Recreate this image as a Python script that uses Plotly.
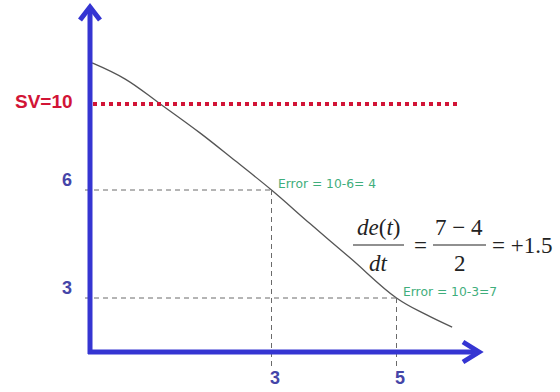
import plotly.graph_objects as go

# ---------------- data ----------------
t_vals = [0.13, 0.66, 1.22, 1.86, 2.42, 3.0, 3.62, 4.26, 5.0, 5.46, 5.89]
pv_vals = [9.53, 9.08, 8.39, 7.58, 6.81, 6.0, 5.06, 4.11, 3.0, 2.55, 2.19]
setpoint = 10
sv_level = 8.39          # schematic height at which the SV line is drawn
sample_t = [3, 5]
sample_pv = [6, 3]
x_tick_labels = ["3", "5"]
y_tick_labels = ["6", "3"]
errors = [setpoint - v for v in sample_pv]        # 4, 7
derivative = (errors[1] - errors[0]) / (sample_t[1] - sample_t[0])

# ---------------- scale calibration (pixel <-> data) ----------------
X0, XS = 84.0, 62.5
Y0, YS = 406.0, 36.0
W, H = 560, 392
def tx(px): return (px - X0) / XS
def ty(py): return (Y0 - py) / YS

axis_t = tx(90)
axis_y = ty(352)
x_end = tx(479)
y_end = ty(7)

AX_BLUE = "#3535d2"
LBL_BLUE = "#4545a8"
RED = "#d21436"
GREEN = "#3fae7c"
GUIDE = "#6a6a6a"

fig = go.Figure()
fig.add_trace(go.Scatter(x=t_vals, y=pv_vals, mode="lines",
                         line=dict(color="#555555", width=1.3, shape="spline", smoothing=1.1),
                         hoverinfo="skip", showlegend=False))

shapes = []
# SV dotted line
shapes.append(dict(type="line", xref="x", yref="y", x0=tx(93), x1=tx(460),
                   y0=sv_level, y1=sv_level,
                   line=dict(color=RED, width=4, dash="4px,4px")))
# guide lines
for t, v in zip(sample_t, sample_pv):
    shapes.append(dict(type="line", xref="x", yref="y", x0=tx(85), x1=t, y0=v, y1=v,
                       line=dict(color=GUIDE, width=1, dash="5px,4px")))
    shapes.append(dict(type="line", xref="x", yref="y", x0=t, x1=t, y0=v, y1=ty(366),
                       line=dict(color=GUIDE, width=1, dash="5px,4px")))
# axes
shapes.append(dict(type="line", xref="x", yref="y", x0=axis_t, x1=axis_t,
                   y0=ty(354), y1=y_end - 0.03, line=dict(color=AX_BLUE, width=5)))
shapes.append(dict(type="line", xref="x", yref="y", x0=tx(88), x1=x_end - 0.03,
                   y0=axis_y, y1=axis_y, line=dict(color=AX_BLUE, width=5)))
# arrow heads (chevrons)
shapes.append(dict(type="path", xref="x", yref="y", xsizemode="pixel", ysizemode="pixel",
                   xanchor=axis_t, yanchor=y_end, path="M -10,-13 L 0,0 L 10,-13",
                   line=dict(color=AX_BLUE, width=5)))
shapes.append(dict(type="path", xref="x", yref="y", xsizemode="pixel", ysizemode="pixel",
                   xanchor=x_end, yanchor=axis_y, path="M -16,10 L 0,0 L -16,-10",
                   line=dict(color=AX_BLUE, width=5)))

ann = []
lbl_font = dict(family="Liberation Sans", size=18, color=LBL_BLUE)
ann.append(dict(x=tx(44), y=sv_level + ty(102) - ty(104), text="<b>SV=%d</b>" % setpoint,
                showarrow=False, font=dict(family="Liberation Sans", size=19, color=RED)))
for lab, v in zip(y_tick_labels, sample_pv):
    ann.append(dict(x=tx(67), y=v + 0.28, text="<b>%s</b>" % lab, showarrow=False, font=lbl_font))
for lab, t in zip(x_tick_labels, sample_t):
    ann.append(dict(x=t + 0.05, y=ty(378), text="<b>%s</b>" % lab, showarrow=False, font=lbl_font))
# error labels
err_font = dict(family="DejaVu Sans", size=12.3, color=GREEN)
for t, v, e in zip(sample_t, sample_pv, errors):
    txt = "Error = %d-%d= %d" % (setpoint, v, e) if e == errors[0] else "Error = %d-%d=%d" % (setpoint, v, e)
    ann.append(dict(x=t + 0.07, y=v + 0.18, text=txt, showarrow=False,
                    xanchor="left", yanchor="middle", font=err_font))
# formula
ff = dict(family="Liberation Serif", size=23, color="#222222")
ann.append(dict(x=tx(378), y=ty(227), text="<i>de</i>(<i>t</i>)", showarrow=False, font=ff))
ann.append(dict(x=tx(378), y=ty(263), text="<i>dt</i>", showarrow=False, font=ff))
ann.append(dict(x=tx(420), y=ty(245), text="=", showarrow=False, font=ff))
ann.append(dict(x=tx(459), y=ty(227), text="%d \u2212 %d" % (errors[1], errors[0]), showarrow=False, font=ff))
ann.append(dict(x=tx(460), y=ty(263), text="%d" % (sample_t[1] - sample_t[0]), showarrow=False, font=ff))
ann.append(dict(x=tx(490), y=ty(245), text="= +%.1f" % derivative, showarrow=False,
                xanchor="left", font=ff))
shapes.append(dict(type="line", xref="x", yref="y", x0=tx(353), x1=tx(404), y0=ty(245), y1=ty(245),
                   line=dict(color="#222222", width=1.2)))
shapes.append(dict(type="line", xref="x", yref="y", x0=tx(433), x1=tx(486), y0=ty(245), y1=ty(245),
                   line=dict(color="#222222", width=1.2)))

fig.update_layout(width=W, height=H, margin=dict(l=0, r=0, t=0, b=0),
                  paper_bgcolor="white", plot_bgcolor="white",
                  shapes=shapes, annotations=ann, showlegend=False,
                  xaxis=dict(visible=False, range=[tx(0), tx(W)], fixedrange=True),
                  yaxis=dict(visible=False, range=[ty(H), ty(0)], fixedrange=True))
fig.write_html("out.html", config=dict(displayModeBar=False),
               post_script="document.body.style.margin='0';document.body.style.overflow='hidden';")
